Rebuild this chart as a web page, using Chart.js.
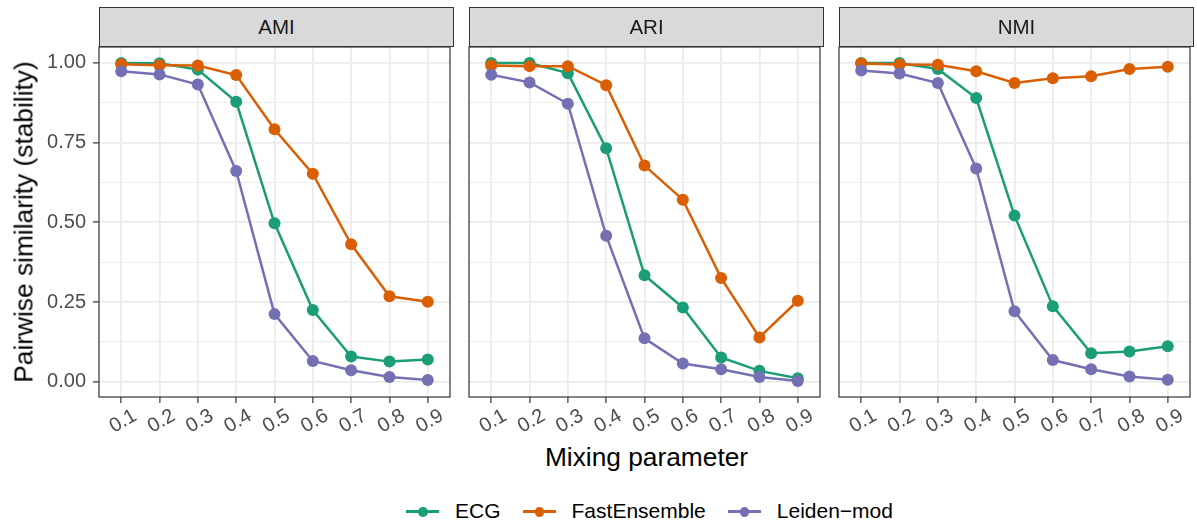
<!DOCTYPE html>
<html>
<head>
<meta charset="utf-8">
<script src="https://cdn.jsdelivr.net/npm/chart.js"></script>
<style>
    html, body { margin: 0; padding: 0; background: #fff; }
    body { width: 1197px; height: 523px; position: relative; overflow: hidden;
           font-family: "Liberation Sans", Arial, sans-serif; }
    canvas { position: absolute; top: 0; }
    .strip { position: absolute; top: 7px; height: 40px; width: 355px; box-sizing: border-box;
             background: #D9D9D9; border: 1.2px solid #333; color: #1A1A1A; font-size: 20.5px;
             line-height: 38px; text-align: center; }
    .ytitle { position: absolute; left: 24px; top: 222px; white-space: nowrap; font-size: 26.3px;
              color: #000; transform: translate(-50%, -50%) rotate(-90deg); }
    .xtitle { position: absolute; left: 0; width: 1293px; top: 442px; line-height: 30px;
              font-size: 26.3px; color: #000; text-align: center; }
    .legend { position: absolute; left: 0; width: 1299px; top: 497px; height: 28px;
              display: flex; justify-content: center; align-items: center; font-size: 21px; }
    .item { display: flex; align-items: center; margin: 0 11px; }
    .key { position: relative; width: 33px; height: 20px; margin-right: 16px; }
    .key .ln { position: absolute; left: 0; right: 0; top: 9px; height: 2.5px; }
    .key .pt { position: absolute; left: 12px; top: 6px; width: 9.5px; height: 9.5px; border-radius: 50%; }
</style>
</head>
<body>
<canvas id="c0" width="456" height="440" style="left:0px"></canvas>
<canvas id="c1" width="397" height="440" style="left:429px"></canvas>
<canvas id="c2" width="397" height="440" style="left:799px"></canvas>
<div id="labels"></div>
<div class="ytitle">Pairwise similarity (stability)</div>
<div class="xtitle">Mixing parameter</div>
<div class="legend" id="legend"></div>

<script>
// -----------------------------
// Daten
// -----------------------------
const mixing = [0.1, 0.2, 0.3, 0.4, 0.5, 0.6, 0.7, 0.8, 0.9];
const yTicks = [0, 0.25, 0.5, 0.75, 1];
const panels = ["AMI", "ARI", "NMI"];
const seriesNames = ["ECG", "FastEnsemble", "Leiden\u2212mod"];

const amiECG    = [1.000, 0.999, 0.979, 0.878, 0.497, 0.225, 0.079, 0.063, 0.070];
const amiFast   = [0.996, 0.993, 0.992, 0.962, 0.792, 0.652, 0.431, 0.268, 0.251];
const amiLeiden = [0.974, 0.964, 0.932, 0.661, 0.212, 0.065, 0.036, 0.015, 0.005];

const ariECG    = [1.000, 1.000, 0.968, 0.732, 0.334, 0.233, 0.076, 0.034, 0.011];
const ariFast   = [0.992, 0.990, 0.990, 0.930, 0.678, 0.571, 0.325, 0.139, 0.254];
const ariLeiden = [0.963, 0.939, 0.872, 0.458, 0.136, 0.057, 0.039, 0.015, 0.002];

const nmiECG    = [1.000, 1.000, 0.981, 0.890, 0.521, 0.237, 0.089, 0.095, 0.111];
const nmiFast   = [0.998, 0.995, 0.994, 0.974, 0.937, 0.952, 0.958, 0.981, 0.988];
const nmiLeiden = [0.976, 0.967, 0.937, 0.669, 0.221, 0.068, 0.039, 0.016, 0.006];

const panelData = [
    [amiECG, amiFast, amiLeiden],
    [ariECG, ariFast, ariLeiden],
    [nmiECG, nmiFast, nmiLeiden]
];

// Farben (Dark2)
const colors = ["#1B9E77", "#D95F02", "#7570B3"];

// -----------------------------
// Layout
// -----------------------------
const panelLeft = [99, 469, 839];
const canvasLeft = [0, 429, 799];
const tickFont = { family: "'Liberation Sans', Arial, sans-serif", size: 20 };
const gridColor = "#EBEBEB";

// y-Gitter inkl. Nebenlinien
const yGrid = [];
for (let i = 0; i < yTicks.length; i++) {
    yGrid.push(yTicks[i]);
    if (i < yTicks.length - 1) yGrid.push((yTicks[i] + yTicks[i + 1]) / 2);
}
const isMajor = (v) => yTicks.some(t => Math.abs(t - v) < 1e-9);

// Panelrahmen
const borderPlugin = {
    id: "panelBorder",
    afterDraw(chart) {
        const a = chart.chartArea;
        const ctx = chart.ctx;
        ctx.save();
        ctx.strokeStyle = "#333333";
        ctx.lineWidth = 1.2;
        ctx.strokeRect(a.left, a.top, a.right - a.left, a.bottom - a.top);
        ctx.restore();
    }
};

// -----------------------------
// Charts zeichnen
// -----------------------------
panels.forEach((name, p) => {
    const first = p === 0;
    const yWidth = panelLeft[p] - canvasLeft[p];

    const datasets = panelData[p].map((vals, s) => ({
        label: seriesNames[s],
        data: vals.map((v, i) => ({ x: mixing[i], y: v })),
        borderColor: colors[s],
        backgroundColor: colors[s],
        borderWidth: 2.5,
        pointRadius: 6,
        pointBorderWidth: 0,
        pointHoverRadius: 6,
        tension: 0,
        order: 2 - s
    }));

    new Chart(document.getElementById("c" + p), {
        type: "line",
        data: { datasets },
        plugins: [borderPlugin],
        options: {
            responsive: false,
            animation: false,
            devicePixelRatio: 1,
            layout: { padding: { top: 47, right: 2, left: 0, bottom: 0 } },
            plugins: { legend: { display: false }, tooltip: { enabled: false } },
            scales: {
                x: {
                    type: "linear",
                    min: 0.042,
                    max: 0.958,
                    afterBuildTicks: (s) => { s.ticks = mixing.map(v => ({ value: v })); },
                    afterFit: (s) => { s.height = 43; },
                    border: { display: false },
                    grid: { color: gridColor, lineWidth: 1.8, drawTicks: true, tickLength: 6,
                            tickColor: "#333333", tickWidth: 1.2 },
                    ticks: {
                        font: tickFont, color: "#4D4D4D", minRotation: 30, maxRotation: 30,
                        padding: 1, labelOffset: 14, autoSkip: false,
                        callback: (v) => v.toFixed(1)
                    }
                },
                y: {
                    min: -0.048,
                    max: 1.05,
                    afterBuildTicks: (s) => { s.ticks = yGrid.map(v => ({ value: v })); },
                    afterFit: (s) => { s.width = yWidth; },
                    border: { display: false },
                    grid: {
                        color: gridColor,
                        lineWidth: (c) => isMajor(c.tick.value) ? 1.8 : 0.9,
                        drawTicks: first,
                        tickLength: 6,
                        tickWidth: 1.2,
                        tickColor: (c) => isMajor(c.tick.value) ? "#333333" : "rgba(0,0,0,0)"
                    },
                    ticks: {
                        display: first, font: tickFont, color: "#4D4D4D", padding: 7,
                        autoSkip: false,
                        callback: (v) => isMajor(v) ? v.toFixed(2) : ""
                    }
                }
            }
        }
    });

    // Streifen oben
    const strip = document.createElement("div");
    strip.className = "strip";
    strip.style.left = panelLeft[p] + "px";
    strip.textContent = name;
    document.getElementById("labels").appendChild(strip);
});

// -----------------------------
// Legende
// -----------------------------
const legend = document.getElementById("legend");
seriesNames.forEach((n, s) => {
    const item = document.createElement("div");
    item.className = "item";
    item.innerHTML = "<div class='key'><div class='ln' style='background:" + colors[s] + "'></div>" +
        "<div class='pt' style='background:" + colors[s] + "'></div></div><span>" + n + "</span>";
    legend.appendChild(item);
});
</script>
</body>
</html>
